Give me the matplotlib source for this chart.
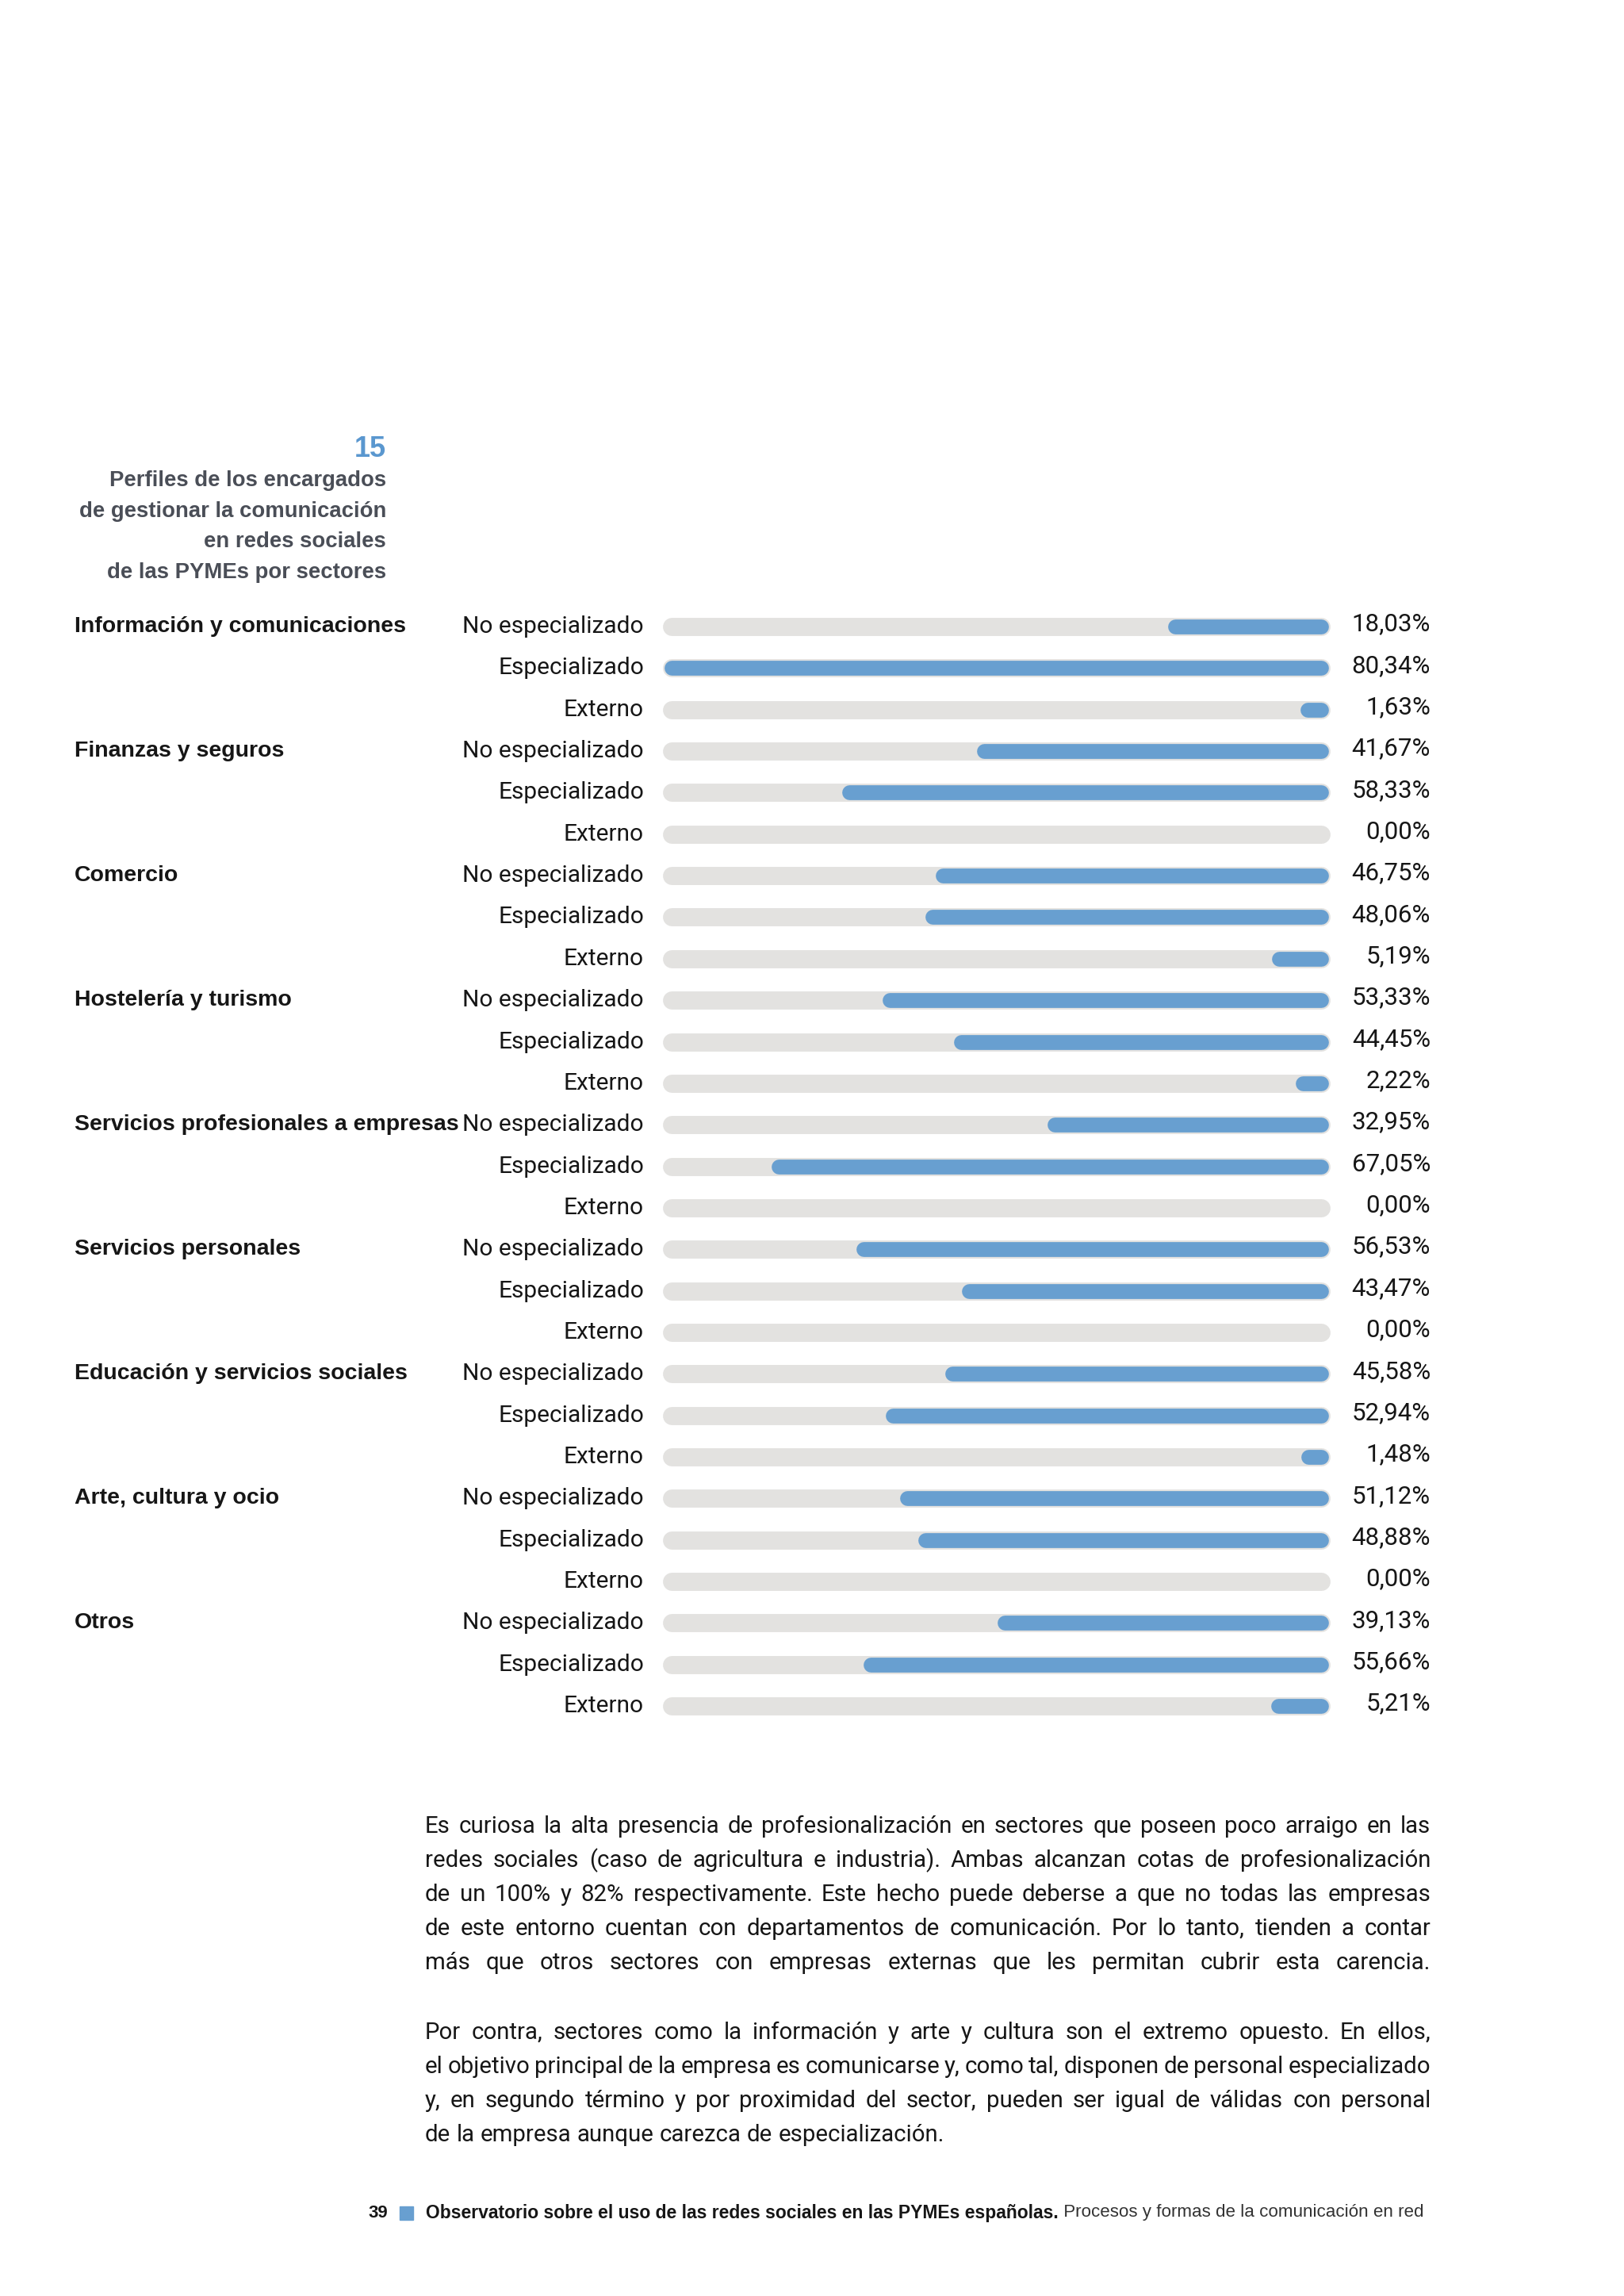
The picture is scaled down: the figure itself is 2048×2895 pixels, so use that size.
import matplotlib
matplotlib.use("Agg")
import matplotlib.pyplot as plt
from matplotlib.transforms import blended_transform_factory

# --- DATA ---
SECTORS = ["Información y comunicaciones", "Finanzas y seguros", "Comercio",
           "Hostelería y turismo", "Servicios profesionales a empresas",
           "Servicios personales", "Educación y servicios sociales",
           "Arte, cultura y ocio", "Otros"]
PROFILES = ["No especializado", "Especializado", "Externo"]
NO_ESPECIALIZADO = [18.03, 41.67, 46.75, 53.33, 32.95, 56.53, 45.58, 51.12, 39.13]
ESPECIALIZADO = [80.34, 58.33, 48.06, 44.45, 67.05, 43.47, 52.94, 48.88, 55.66]
EXTERNO = [1.63, 0.00, 5.19, 2.22, 0.00, 0.00, 1.48, 0.00, 5.21]

TITLE_NUM = "15"
TITLE = ["Perfiles de los encargados", "de gestionar la comunicación",
         "en redes sociales", "de las PYMEs por sectores"]

PARA1 = ["Es curiosa la alta presencia de profesionalización en sectores que poseen poco arraigo en las",
         "redes sociales (caso de agricultura e industria). Ambas alcanzan cotas de profesionalización",
         "de un 100% y 82% respectivamente. Este hecho puede deberse a que no todas las empresas",
         "de este entorno cuentan con departamentos de comunicación. Por lo tanto, tienden a contar",
         "más que otros sectores con empresas externas que les permitan cubrir esta carencia."]
PARA2 = ["Por contra, sectores como la información y  arte y cultura son el extremo opuesto. En ellos,",
         "el objetivo principal de la empresa es comunicarse y, como tal, disponen de personal especializado",
         "y, en segundo término y por proximidad del sector, pueden ser igual de válidas con personal",
         "de la empresa aunque carezca de especialización."]

FOOT_PAGE = "39"
FOOT_BOLD = "Observatorio sobre el uso de las redes sociales en las PYMEs españolas."
FOOT_LIGHT = " Procesos y formas de la comunicación en red"

# --- STYLE ---
W, H = 2048, 2895
BLUE = "#689fd0"
TRACK = "#e3e2e0"
DARK = "#161616"
TITLE_COL = "#4a4e57"
LIGHT = dict(family=["Roboto", "DejaVu Sans"], fontweight="normal")
BOLD = dict(family=["Liberation Sans", "DejaVu Sans"], fontweight="bold")
TXT_SIZE = 21.5
PARA_SIZE = 21.2


def fx(x):
    return x / W


def fy(y):
    return 1 - y / H


fig = plt.figure(figsize=(W / 100, H / 100), dpi=100)
fig.patch.set_facecolor("white")

# --- TITLE ---
fig.text(fx(487), fy(567), TITLE_NUM, ha="right", va="center", color="#5a97cf",
         fontsize=26, family=["Liberation Sans"], fontweight="heavy")
for i, line in enumerate(TITLE):
    fig.text(fx(487), fy(606 + i * 38.7), line, ha="right", va="center",
             color=TITLE_COL, fontsize=19.8, **BOLD)

# --- BARS ---
rows = []
for s in range(len(SECTORS)):
    vals = [NO_ESPECIALIZADO[s], ESPECIALIZADO[s], EXTERNO[s]]
    for p in range(3):
        rows.append((s, p, vals[p]))

n = len(rows)
xmax = max(ESPECIALIZADO + NO_ESPECIALIZADO)
row0, step = 790, 52.35
top = row0 - step / 2
bottom = row0 + (n - 1) * step + step / 2
ax = fig.add_axes([fx(846.5), fy(bottom), fx(1665.5) - fx(846.5), (bottom - top) / H])
ax.set_xlim(0, xmax)
ax.set_ylim(n - 0.5, -0.5)
ax.axis("off")

trans = blended_transform_factory(fig.transFigure, ax.transData)
for i, (s, p, v) in enumerate(rows):
    ax.plot([0, xmax], [i, i], color=TRACK, lw=16.5, solid_capstyle="round",
            clip_on=False, zorder=1)
    if v > 0:
        ax.plot([xmax - v, xmax], [i, i], color=BLUE, lw=13.5,
                solid_capstyle="round", clip_on=False, zorder=2)
    ax.text(fx(812), i, PROFILES[p], transform=trans, ha="right", va="center",
            fontsize=TXT_SIZE, color=DARK, **LIGHT)
    ax.text(fx(1804), i - 0.06, f"{v:.2f}%".replace(".", ","), transform=trans,
            ha="right", va="center", fontsize=TXT_SIZE + 1, color=DARK, **LIGHT)
    if p == 0:
        ax.text(fx(94), i, SECTORS[s], transform=trans, ha="left", va="center",
                fontsize=20.5, color=DARK, **BOLD)

# --- PARAGRAPHS (justified) ---
renderer = fig.canvas.get_renderer()


def justify(line, y, x0, x1, full=True):
    words = line.split()
    texts = [fig.text(0, fy(y), w, ha="left", va="center", fontsize=PARA_SIZE,
                      color=DARK, **LIGHT) for w in words]
    widths = [t.get_window_extent(renderer).width for t in texts]
    a = fig.text(0, 0, "a a", fontsize=PARA_SIZE, **LIGHT)
    b = fig.text(0, 0, "aa", fontsize=PARA_SIZE, **LIGHT)
    sp = a.get_window_extent(renderer).width - b.get_window_extent(renderer).width
    a.remove()
    b.remove()
    if full and len(words) > 1:
        gap = (x1 - x0 - sum(widths)) / (len(words) - 1)
    else:
        gap = sp
    x = x0
    for t, w in zip(texts, widths):
        t.set_x(fx(x))
        x += w + gap


for i, line in enumerate(PARA1):
    justify(line, 2303 + i * 43, 536, 1804)
for i, line in enumerate(PARA2):
    justify(line, 2563 + i * 43, 536, 1804, full=(i < len(PARA2) - 1))

# --- FOOTER ---
fig.text(fx(489), fy(2790), FOOT_PAGE, ha="right", va="center", fontsize=16,
         color=DARK, **BOLD)
fig.patches.append(plt.Rectangle((fx(504), fy(2799)), 17 / W, 17 / H,
                                 transform=fig.transFigure, color=BLUE))
t1 = fig.text(fx(537), fy(2790), FOOT_BOLD, ha="left", va="center", fontsize=16.5,
              color=DARK, **BOLD)
w1 = t1.get_window_extent(renderer).width
fig.text(fx(537 + w1), fy(2790), FOOT_LIGHT, ha="left", va="center", fontsize=16.1,
         color="#333333", family=["Liberation Sans"])

fig.savefig("out.png", dpi=100, facecolor="white")
